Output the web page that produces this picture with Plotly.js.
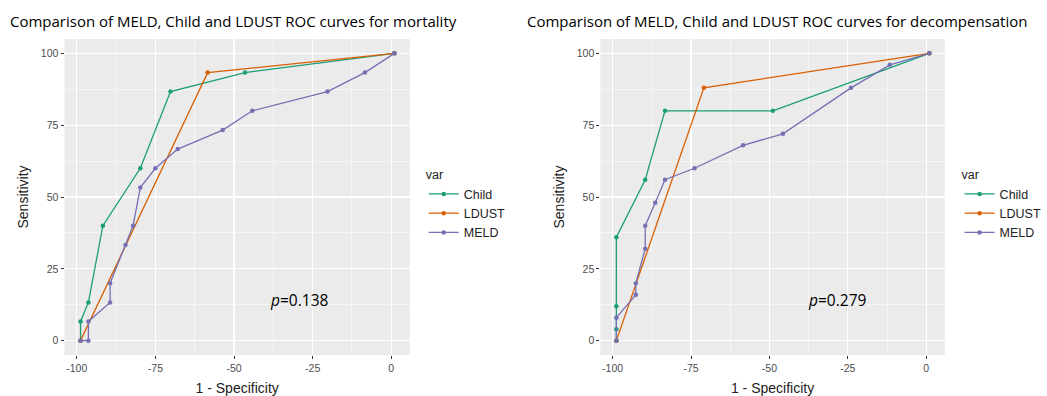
<!DOCTYPE html>
<html>
<head>
<meta charset="utf-8">
<script src="https://cdn.plot.ly/plotly-3.0.1.min.js"></script>
<style>html,body{margin:0;padding:0;background:#fff;}#chart{width:1047px;height:396px;}</style>
</head>
<body>
<div id="chart"></div>
<script>
// ---- Data: mortality panel ----
const childMortX = [-98.8, -98.8, -96.3, -91.7, -79.8, -70.2, -46.5, 1.0];
const childMortY = [0, 6.7, 13.3, 40, 60, 86.7, 93.3, 100];
const ldustMortX = [-98.8, -58.4, 1.0];
const ldustMortY = [0, 93.3, 100];
const meldMortX = [-98.8, -96.3, -96.3, -89.4, -89.4, -84.5, -82.1, -79.8, -75.0, -67.9, -53.6, -44.2, -20.3, -8.4, 1.0];
const meldMortY = [0, 0, 6.7, 13.3, 20, 33.3, 40, 53.3, 60, 66.7, 73.3, 80, 86.7, 93.3, 100];

// ---- Data: decompensation panel ----
const childDecX = [-98.8, -98.8, -98.8, -98.8, -89.6, -83.3, -48.9, 1.0];
const childDecY = [0, 4, 12, 36, 56, 80, 80, 100];
const ldustDecX = [-98.8, -70.9, 1.0];
const ldustDecY = [0, 88, 100];
const meldDecX = [-98.8, -98.8, -92.6, -92.6, -89.6, -89.6, -86.4, -83.3, -73.9, -58.4, -45.7, -24.0, -11.6, 1.0];
const meldDecY = [0, 8, 16, 20, 32, 40, 48, 56, 60, 68, 72, 88, 96, 100];

const seriesNames = ['Child', 'LDUST', 'MELD'];
const xTickVals = [-100, -75, -50, -25, 0];
const xTickText = ['-100', '-75', '-50', '-25', '0'];
const yTickVals = [0, 25, 50, 75, 100];
const yTickText = ['0', '25', '50', '75', '100'];
const panelTitles = ['Comparison of MELD, Child and LDUST ROC curves for mortality',
                     'Comparison of MELD, Child and LDUST ROC curves for decompensation'];
const pValues = ['0.138', '0.279'];
const pPosX = [-29.4, -28.3];
const pPosY = [14.3, 14.3];

const colors = {Child: '#1B9E77', LDUST: '#D95F02', MELD: '#7570B3'};

function tr(x, y, name, xa, ya, leg) {
  return {
    x: x, y: y, name: name, type: 'scatter', mode: 'lines+markers',
    xaxis: xa, yaxis: ya, legend: leg,
    line: {color: colors[name], width: 1.3},
    marker: {color: colors[name], size: 4.5},
    hoverinfo: 'x+y+name'
  };
}

const data = [
  tr(childMortX, childMortY, 'Child', 'x', 'y', 'legend'),
  tr(ldustMortX, ldustMortY, 'LDUST', 'x', 'y', 'legend'),
  tr(meldMortX, meldMortY, 'MELD', 'x', 'y', 'legend'),
  tr(childDecX, childDecY, 'Child', 'x2', 'y2', 'legend2'),
  tr(ldustDecX, ldustDecY, 'LDUST', 'x2', 'y2', 'legend2'),
  tr(meldDecX, meldDecY, 'MELD', 'x2', 'y2', 'legend2')
];

const W = 1047, H = 396;
const tickFont = {family: 'Liberation Sans, Arial, sans-serif', size: 10.5, color: '#4D4D4D'};
const titleFont = {family: 'Liberation Sans, Arial, sans-serif', size: 14, color: '#222'};

function xax(dom, anchor) {
  return {
    domain: dom, anchor: anchor, range: [-103.9, 5.9],
    tickmode: 'array', tickvals: xTickVals, ticktext: xTickText,
    ticks: 'outside', ticklen: 3, tickcolor: '#333', tickwidth: 1,
    tickfont: tickFont, showline: false, zeroline: false,
    showgrid: true, gridcolor: '#FFFFFF', gridwidth: 1.1,
    minor: {tickmode: 'linear', tick0: -12.5, dtick: 25, showgrid: true, gridcolor: '#FFFFFF', gridwidth: 0.5, ticks: ''},
    title: {text: '1 - Specificity', font: titleFont, standoff: 10},
    fixedrange: true
  };
}
function yax(dom, anchor) {
  return {
    domain: dom, anchor: anchor, range: [-5, 105],
    tickmode: 'array', tickvals: yTickVals, ticktext: yTickText,
    ticks: 'outside', ticklen: 3, tickcolor: '#333', tickwidth: 1,
    tickfont: tickFont, showline: false, zeroline: false,
    showgrid: true, gridcolor: '#FFFFFF', gridwidth: 1.1,
    minor: {tickmode: 'linear', tick0: 12.5, dtick: 25, showgrid: true, gridcolor: '#FFFFFF', gridwidth: 0.5, ticks: ''},
    title: {text: 'Sensitivity', font: titleFont, standoff: 8},
    fixedrange: true
  };
}

const yDom = [(H - 355) / H, (H - 39) / H];
const legendCommon = {
  yanchor: 'top', xanchor: 'left',
  bgcolor: 'rgba(0,0,0,0)',
  font: {family: 'Liberation Sans, Arial, sans-serif', size: 12.5, color: '#222'},
  title: {text: 'var', font: {family: 'Liberation Sans, Arial, sans-serif', size: 12.5, color: '#222'}},
  itemwidth: 30, tracegroupgap: 0
};

const annotations = [];
panelTitles.forEach((t, i) => {
  annotations.push({
    xref: 'paper', yref: 'paper', x: (i === 0 ? 8 : 529) / W, y: 1 - 21 / H,
    xanchor: 'left', yanchor: 'middle', showarrow: false, text: t,
    font: {family: 'Open Sans, sans-serif', size: 15, color: '#000'}
  });
});
pValues.forEach((p, i) => {
  annotations.push({
    xref: i === 0 ? 'x' : 'x2', yref: i === 0 ? 'y' : 'y2',
    x: pPosX[i], y: pPosY[i], showarrow: false,
    text: '<i>p</i>=' + p,
    font: {family: 'Open Sans, sans-serif', size: 15.5, color: '#000'}
  });
});

const layout = {
  width: W, height: H,
  margin: {l: 0, r: 0, t: 0, b: 0},
  paper_bgcolor: '#FFFFFF', plot_bgcolor: '#EBEBEB',
  xaxis: xax([65 / W, 413 / W], 'y'),
  yaxis: yax(yDom, 'x'),
  xaxis2: xax([605 / W, 952 / W], 'y2'),
  yaxis2: yax(yDom, 'x2'),
  legend: Object.assign({}, legendCommon, {x: 427 / W, y: 1 - 163 / H}),
  legend2: Object.assign({}, legendCommon, {x: 967 / W, y: 1 - 163 / H}),
  annotations: annotations,
  showlegend: true
};

Plotly.newPlot('chart', data, layout, {displayModeBar: false, staticPlot: true});
</script>
</body>
</html>
